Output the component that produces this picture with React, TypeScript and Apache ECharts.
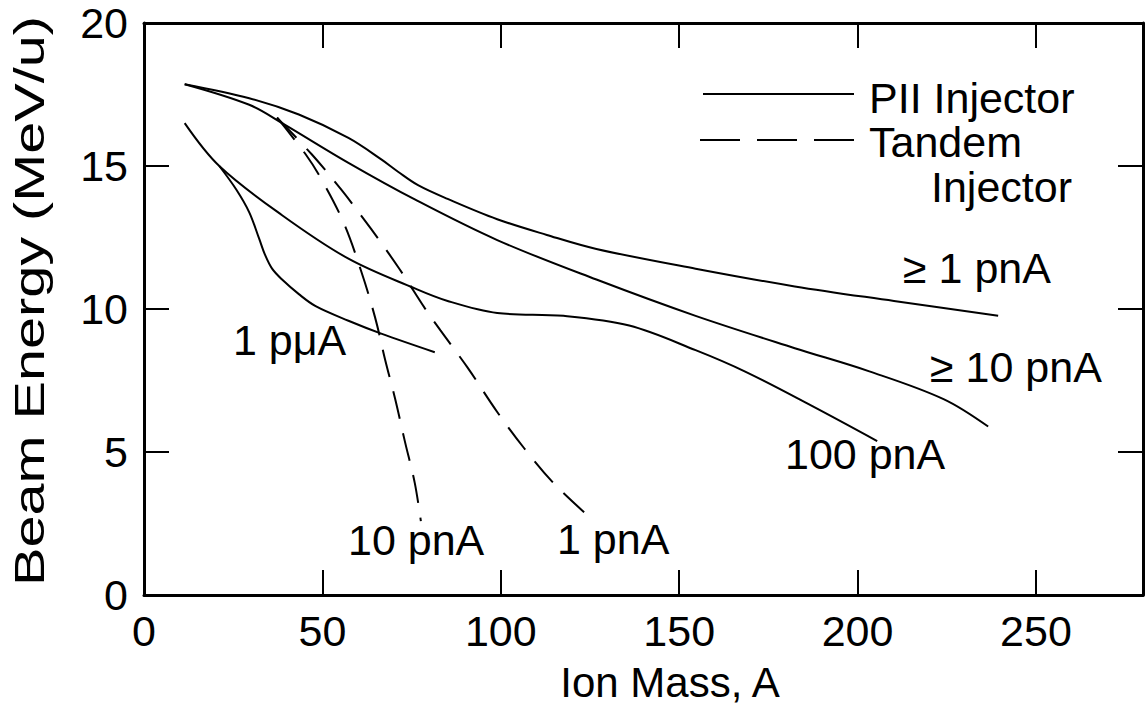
import React, { useEffect, useRef } from "react";
import * as echarts from "echarts";

// Ion mass (A) and beam energy (MeV/u) along each curve
const ge1pnAMass = [11.4, 29.5, 43.4, 57.3, 66.5, 71.2, 76.8, 85.1, 99.0, 112.9, 126.8, 154.6, 182.4, 210.2, 239.4];
const ge1pnAEnergy = [17.86, 17.37, 16.8, 15.98, 15.23, 14.8, 14.33, 13.85, 13.14, 12.59, 12.1, 11.41, 10.79, 10.28, 9.76];

const ge10pnAMass = [11.4, 29.5, 38.7, 57.3, 75.9, 99.0, 126.8, 154.6, 182.4, 203.3, 224.1, 236.6];
const ge10pnAEnergy = [17.86, 17.14, 16.5, 15.11, 13.83, 12.41, 11.03, 9.76, 8.63, 7.82, 6.85, 5.89];

const pnA100Mass = [11.4, 21.1, 38.7, 57.3, 75.9, 85.1, 99.0, 117.6, 136.0, 154.6, 168.5, 187.2, 205.5];
const pnA100Energy = [16.5, 15.0, 13.28, 11.76, 10.72, 10.28, 9.86, 9.76, 9.42, 8.56, 7.81, 6.61, 5.38];

const puA1Mass = [21.1, 25.9, 29.5, 32.3, 33.9, 35.9, 38.7, 43.4, 48.1, 57.3, 66.5, 81.5];
const puA1Energy = [15.0, 14.17, 13.38, 12.45, 11.9, 11.41, 11.03, 10.52, 10.1, 9.59, 9.14, 8.49];

const tandem10pnAMass = [37.3, 45.3, 49.8, 55.9, 60.9, 64.8, 67.6, 70.4, 73.1, 75.9, 77.6];
const tandem10pnAEnergy = [16.69, 15.41, 14.52, 13.03, 11.31, 9.69, 8.22, 6.85, 5.38, 3.91, 2.58];

const tandem1pnAMass = [37.3, 47.0, 55.3, 63.7, 71.7, 78.7, 83.1, 90.7, 99.0, 106.5, 114.8, 124.9];
const tandem1pnAEnergy = [16.69, 15.41, 14.17, 12.79, 11.38, 10.03, 9.25, 7.95, 6.4, 5.14, 3.91, 2.72];

const xTicks = [0, 50, 100, 150, 200, 250];
const yTicks = [0, 5, 10, 15, 20];

const FONT = '"Liberation Sans", Arial, Helvetica, sans-serif';
const INK = "#000";

const zip = (xs: number[], ys: number[]) => xs.map((x, i) => [x, ys[i]]);

export default function App() {
  const ref = useRef<HTMLDivElement>(null);

  useEffect(() => {
    if (!ref.current) return;
    const chart = echarts.init(ref.current, undefined, { renderer: "svg" });

    const solid = (name: string, xs: number[], ys: number[]) => ({
      type: "line",
      name,
      data: zip(xs, ys),
      smooth: 0.35,
      symbol: "none",
      lineStyle: { color: INK, width: 2 },
    });
    const dashed = (name: string, xs: number[], ys: number[]) => ({
      type: "line",
      name,
      data: zip(xs, ys),
      smooth: 0.35,
      symbol: "none",
      lineStyle: { color: INK, width: 2, type: [28, 15] },
    });

    const axisLine = { show: true, onZero: false, lineStyle: { color: INK, width: 3 } };
    const tick = { show: true, inside: true, length: 25, lineStyle: { color: INK, width: 2 } };

    const label = (text: string, x: number, y: number) => ({
      type: "text",
      x,
      y,
      style: { text, fill: INK, font: `43px ${FONT}`, align: "left", verticalAlign: "middle" },
    });

    chart.setOption({
      animation: false,
      backgroundColor: "#fff",
      grid: { left: 144, top: 23, right: -3, bottom: 111 },
      xAxis: [
        {
          type: "value",
          min: 0,
          max: 280,
          interval: 50,
          position: "bottom",
          axisLine,
          axisTick: tick,
          splitLine: { show: false },
          showMaxLabel: false,
          axisLabel: {
            margin: 14,
            color: INK,
            fontSize: 43,
            fontFamily: FONT,
            formatter: (v: number) => (xTicks.includes(v) ? String(v) : ""),
          },
        },
        {
          type: "value",
          min: 0,
          max: 280,
          interval: 50,
          position: "top",
          axisLine,
          axisTick: tick,
          splitLine: { show: false },
          axisLabel: { show: false },
        },
      ],
      yAxis: [
        {
          type: "value",
          min: 0,
          max: 20,
          interval: 5,
          position: "left",
          axisLine,
          axisTick: tick,
          splitLine: { show: false },
          axisLabel: {
            margin: 16,
            color: INK,
            fontSize: 43,
            lineHeight: 38,
            fontFamily: FONT,
            formatter: (v: number) => (yTicks.includes(v) ? String(v) : ""),
          },
        },
        {
          type: "value",
          min: 0,
          max: 20,
          interval: 5,
          position: "right",
          axisLine,
          axisTick: tick,
          splitLine: { show: false },
          axisLabel: { show: false },
        },
      ],
      series: [
        solid("≥ 1 pnA", ge1pnAMass, ge1pnAEnergy),
        solid("≥ 10 pnA", ge10pnAMass, ge10pnAEnergy),
        solid("100 pnA", pnA100Mass, pnA100Energy),
        solid("1 pμA", puA1Mass, puA1Energy),
        dashed("10 pnA", tandem10pnAMass, tandem10pnAEnergy),
        dashed("1 pnA", tandem1pnAMass, tandem1pnAEnergy),
      ],
      graphic: [
        // axis titles
        {
          type: "text",
          x: 670,
          y: 682,
          style: { text: "Ion Mass, A", fill: INK, font: `42px ${FONT}`, align: "center", verticalAlign: "middle" },
        },
        {
          type: "text",
          x: 29,
          y: 301,
          rotation: Math.PI / 2,
          scaleX: 1.34,
          style: { text: "Beam Energy (MeV/u)", fill: INK, font: `43px ${FONT}`, align: "center", verticalAlign: "middle" },
        },
        // key
        { type: "line", shape: { x1: 703, y1: 94, x2: 854, y2: 94 }, style: { stroke: INK, lineWidth: 2 } },
        {
          type: "line",
          shape: { x1: 700, y1: 140, x2: 854, y2: 140 },
          style: { stroke: INK, lineWidth: 2, lineDash: [40, 17] },
        },
        label("PII Injector", 869, 98),
        label("Tandem", 869, 142),
        label("Injector", 931, 187),
        // curve labels
        label("≥ 1 pnA", 903, 268),
        label("≥ 10 pnA", 930, 367),
        label("100 pnA", 785, 454),
        label("1 pμA", 233, 340),
        label("10 pnA", 348, 540),
        label("1 pnA", 557, 539),
      ],
    });

    return () => chart.dispose();
  }, []);

  return (
    <div
      ref={ref}
      style={{ position: "fixed", left: 0, top: 0, width: 1146, height: 706, background: "#fff" }}
    />
  );
}
